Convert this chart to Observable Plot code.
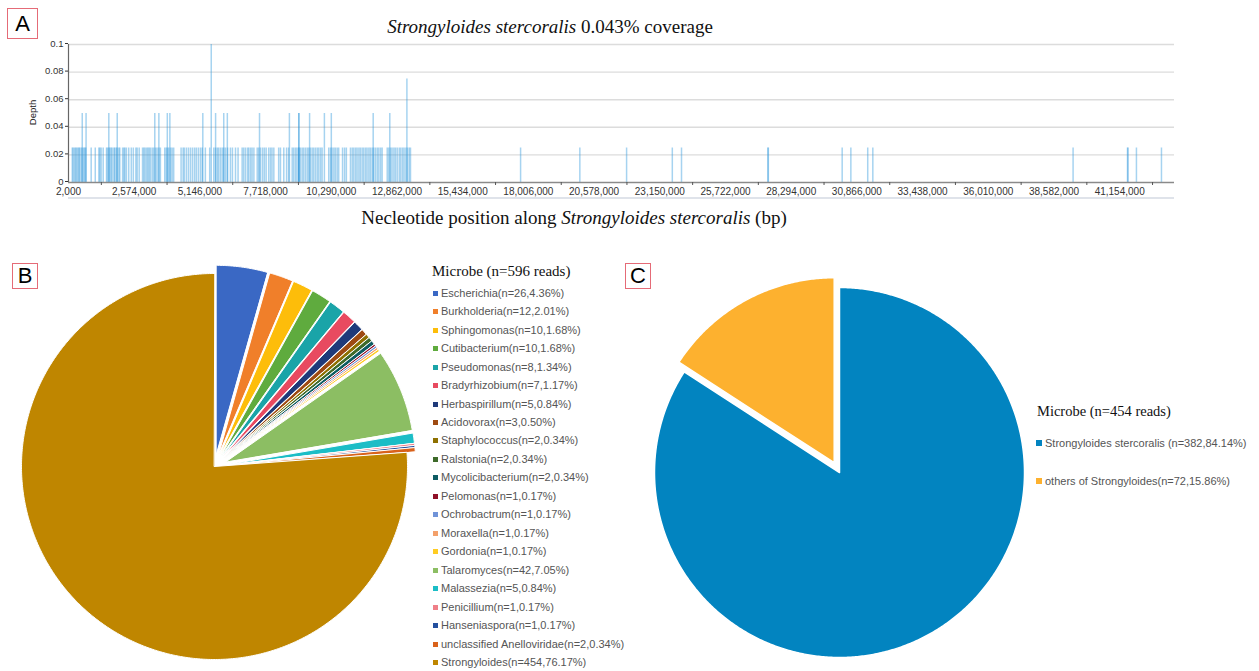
<!DOCTYPE html>
<html><head><meta charset="utf-8">
<script src="https://cdn.jsdelivr.net/npm/d3@7"></script>
<script src="https://cdn.jsdelivr.net/npm/@observablehq/plot@0.6"></script>
<style>
body{margin:0;background:#fff;}
#root{position:relative;width:1259px;height:671px;overflow:hidden;font-family:"Liberation Sans",Arial,sans-serif;}
.abs{position:absolute;white-space:nowrap;}
.panel{position:absolute;border:1.5px solid #e56b77;font-size:22px;color:#000;display:flex;align-items:center;justify-content:center;box-sizing:border-box;font-family:"Liberation Sans",Arial,sans-serif;}
.serif{font-family:"Liberation Serif","Times New Roman",serif;color:#111;}
.leg{position:absolute;white-space:nowrap;font-size:11px;color:#555;line-height:14px;}
.sw{display:inline-block;width:5px;height:5px;margin-right:3px;vertical-align:1px;}
</style></head><body><div id="root"></div>
<script>
// ---------- Panel A data (positions in Mb, depth levels) ----------
const depth025Mb = [0.15,0.19,0.24,0.28,0.32,0.37,0.41,0.44,0.50,0.55,0.60,0.64,0.68,0.89,1.05,1.19,1.23,1.28,1.36,
1.49,1.53,1.58,1.62,1.67,1.71,1.78,1.81,1.87,1.91,1.97,2.01,2.12,2.17,2.21,2.27,2.36,2.46,2.54,2.64,2.69,2.77,
2.90,2.95,3.00,3.06,3.11,3.16,3.21,3.28,3.34,3.41,3.47,3.54,3.60,3.77,3.83,3.88,3.93,4.00,4.06,4.12,4.41,4.49,4.54,
4.62,4.70,4.78,4.86,4.94,5.01,5.09,5.17,5.24,5.36,5.53,5.69,5.76,5.83,5.88,5.95,6.02,6.08,6.15,6.23,6.34,6.42,
6.54,6.64,6.80,6.86,6.93,7.01,7.06,7.13,7.19,7.26,7.39,7.45,7.52,7.60,7.67,7.74,7.84,7.91,7.97,8.04,8.23,8.30,
8.43,8.54,8.62,8.76,8.82,8.89,8.95,9.02,9.02,9.08,9.15,9.21,9.28,9.35,9.41,9.47,9.54,9.60,9.67,9.74,9.80,9.87,9.93,
10.19,10.26,10.32,10.39,10.45,10.52,10.58,10.73,10.81,10.88,11.04,11.11,11.17,11.24,11.30,11.37,11.43,11.50,11.56,
11.63,11.69,11.76,11.82,11.89,11.95,12.02,12.09,12.15,12.22,12.28,12.48,12.54,12.61,12.67,12.74,12.80,12.87,12.95,
13.01,13.08,13.14,13.21,13.27,13.34,13.39,
17.70,20.02,21.85,23.64,24.00,27.38,27.40,30.29,30.63,31.29,31.49,39.33,41.46,41.48,41.81,42.79];
const depth050Mb = [0.54,0.69,1.58,1.91,3.38,3.54,3.87,3.97,5.26,5.76,6.08,6.22,7.48,8.65,9.02,9.02,9.44,10.02,10.29,11.93,12.58];
const depth075Mb = [13.25];
const depth100Mb = [5.59];
const xTickLabels = [2000,2574000,5146000,7718000,10290000,12862000,15434000,18006000,20578000,23150000,25722000,28294000,30866000,33438000,36010000,38582000,41154000];
const yTickLabels = [0,0.02,0.04,0.06,0.08,0.1];

// ---------- Panel B data ----------
const microbeNames = ["Escherichia","Burkholderia","Sphingomonas","Cutibacterium","Pseudomonas","Bradyrhizobium","Herbaspirillum","Acidovorax","Staphylococcus","Ralstonia","Mycolicibacterium","Pelomonas","Ochrobactrum","Moraxella","Gordonia","Talaromyces","Malassezia","Penicillium","Hanseniaspora","unclassified Anelloviridae","Strongyloides"];
const microbeCounts = [26,12,10,10,8,7,5,3,2,2,2,1,1,1,1,42,5,1,1,2,454];
const microbePercents = ["4.36","2.01","1.68","1.68","1.34","1.17","0.84","0.50","0.34","0.34","0.34","0.17","0.17","0.17","0.17","7.05","0.84","0.17","0.17","0.34","76.17"];
const microbePalette = ["#3a68c4","#f07f2a","#fdbd0a","#5fab3e","#1aa4a8","#e84a60","#1f3a7a","#9e4a12","#8e7000","#3e6a2a","#0d5c63","#8f1027","#7093d8","#f3a06a","#ffcc22","#8cbe63","#1bbdc6","#ef7f88","#24509f","#d9621b","#bf8600"];

// ---------- Panel C data ----------
const strongNames = ["Strongyloides stercoralis","others of Strongyloides"];
const strongCounts = [382,72];
const strongLabels = ["Strongyloides stercoralis (n=382,84.14%)","others of Strongyloides(n=72,15.86%)"];
const strongPalette = ["#0284c0","#fdb12f"];

const root = document.getElementById("root");
function add(html){const d=document.createElement("div");d.innerHTML=html;const el=d.firstElementChild;root.appendChild(el);return el;}

// ---------- Panel A ----------
const cov = [];
depth025Mb.forEach(p=>cov.push({pos:p*1e6, depth:0.025}));
depth050Mb.forEach(p=>cov.push({pos:p*1e6, depth:0.05}));
depth075Mb.forEach(p=>cov.push({pos:p*1e6, depth:0.075}));
depth100Mb.forEach(p=>cov.push({pos:p*1e6, depth:0.1}));
const halfStep = (xTickLabels[1]-xTickLabels[0])/2;
const midTicks = xTickLabels.map(v=>v+halfStep);

const topPlot = Plot.plot({
  width:1259, height:205, marginLeft:68, marginRight:85, marginTop:44, marginBottom:23,
  style:{background:"transparent", fontFamily:"Liberation Sans, Arial, sans-serif", color:"#333"},
  x:{domain:[2000, 43300000]},
  y:{domain:[0,0.1]},
  marks:[
    Plot.gridY(yTickLabels.filter(d=>d>0), {stroke:"#dcdcdc", strokeOpacity:1, strokeWidth:1.4}),
    Plot.ruleX(cov, {x:"pos", y1:0, y2:"depth", stroke:"#2a97dc", strokeOpacity:0.42, strokeWidth:1.5}),
    Plot.ruleY([0], {stroke:"#8a8a8a", strokeWidth:1.5}),
    Plot.ruleX([2000], {stroke:"#666", strokeWidth:1.2}),
    Plot.axisY(yTickLabels, {tickSize:3, tickPadding:2, fontSize:9.5, label:null, tickFormat:d=>String(d), dy:-1}),
    Plot.axisX(xTickLabels, {tickSize:0, tickPadding:5, fontSize:10, tickFormat:d3.format(","), label:null}),
    Plot.axisX(midTicks, {tickSize:3, tickFormat:()=>"", label:null, stroke:"#555"})
  ]
});
topPlot.style.position="absolute"; topPlot.style.left="0px"; topPlot.style.top="0px";
root.appendChild(topPlot);
add(`<div class="abs" style="left:68px;top:197px;width:1106px;height:2px;background:#dfe3ea"></div>`);
add(`<div class="abs serif" style="left:0;width:1100px;top:16px;text-align:center;font-size:19px"><i>Strongyloides stercoralis</i> 0.043% coverage</div>`);
add(`<div class="abs serif" style="left:0;width:1148px;top:207px;text-align:center;font-size:19px">Necleotide position along <i>Strongyloides stercoralis</i> (bp)</div>`);
add(`<div class="abs" style="left:20px;top:107px;font-size:9.5px;color:#222;transform:rotate(-90deg);transform-origin:center">Depth</div>`);
add(`<div class="panel" style="left:7px;top:8px;width:31px;height:31px">A</div>`);
add(`<div class="panel" style="left:12px;top:263px;width:26px;height:26px">B</div>`);
add(`<div class="panel" style="left:625px;top:263px;width:26px;height:26px">C</div>`);

// ---------- Pie helper ----------
function pieRows(names, counts, radiusOf, explodeOf){
  const arcs = d3.pie().sort(null).value(d=>d)(counts);
  const rows = [];
  arcs.forEach((a,i)=>{
    const ex = explodeOf(i), r = radiusOf(i);
    const mid = (a.startAngle+a.endAngle)/2;
    const cx = ex*Math.sin(mid), cy = ex*Math.cos(mid);
    rows.push({name:names[i], x:cx, y:cy});
    const n = Math.max(2, Math.ceil((a.endAngle-a.startAngle)/(Math.PI/360)));
    for(let j=0;j<=n;j++){
      const t = a.startAngle+(a.endAngle-a.startAngle)*j/n;
      rows.push({name:names[i], x:cx+r*Math.sin(t), y:cy+r*Math.cos(t)});
    }
  });
  return rows;
}
function piePlot(rows, names, colors, w, h, cx, cy, R, sw){
  return Plot.plot({
    width:w, height:h, margin:0,
    x:{domain:[-cx/R,(w-cx)/R], axis:null},
    y:{domain:[-(h-cy)/R, cy/R], axis:null},
    color:{domain:names, range:colors},
    style:{background:"transparent"},
    marks:[Plot.line(rows,{x:"x", y:"y", z:"name", fill:"name", stroke:"white", strokeWidth:sw, curve:"linear-closed"})]
  });
}

// ---------- Panel B ----------
const last = microbeNames.length-1;
const rowsB = pieRows(microbeNames, microbeCounts, i=> i===last?1:0.98, i=> i===last?0:0.063);
const pieB = piePlot(rowsB, microbeNames, microbePalette, 430, 431, 214, 226, 193, 1);
pieB.style.position="absolute"; pieB.style.left="0px"; pieB.style.top="240px";
root.appendChild(pieB);
add(`<div class="abs serif" style="left:432px;top:263px;font-size:15px">Microbe (n=596 reads)</div>`);
microbeNames.forEach((nm,i)=>{
  const y = 292.7 + i*18.47 - 7;
  add(`<div class="leg" style="left:433px;top:${y}px"><span class="sw" style="background:${microbePalette[i]}"></span>${nm}(n=${microbeCounts[i]},${microbePercents[i]}%)</div>`);
});

// ---------- Panel C ----------
const rowsC = pieRows(strongNames, strongCounts, i=>1, i=> i===1?0.06:0);
const pieC = piePlot(rowsC, strongNames, strongPalette, 400, 411, 199, 212, 185, 1.5);
pieC.style.position="absolute"; pieC.style.left="640px"; pieC.style.top="260px";
root.appendChild(pieC);
add(`<div class="abs serif" style="left:1037px;top:403px;font-size:14.5px">Microbe (n=454 reads)</div>`);
strongLabels.forEach((lb,i)=>{
  const y = [443,481][i] - 7;
  add(`<div class="leg" style="left:1036px;top:${y}px"><span class="sw" style="width:6px;height:6px;background:${strongPalette[i]}"></span>${lb}</div>`);
});
</script></body></html>
